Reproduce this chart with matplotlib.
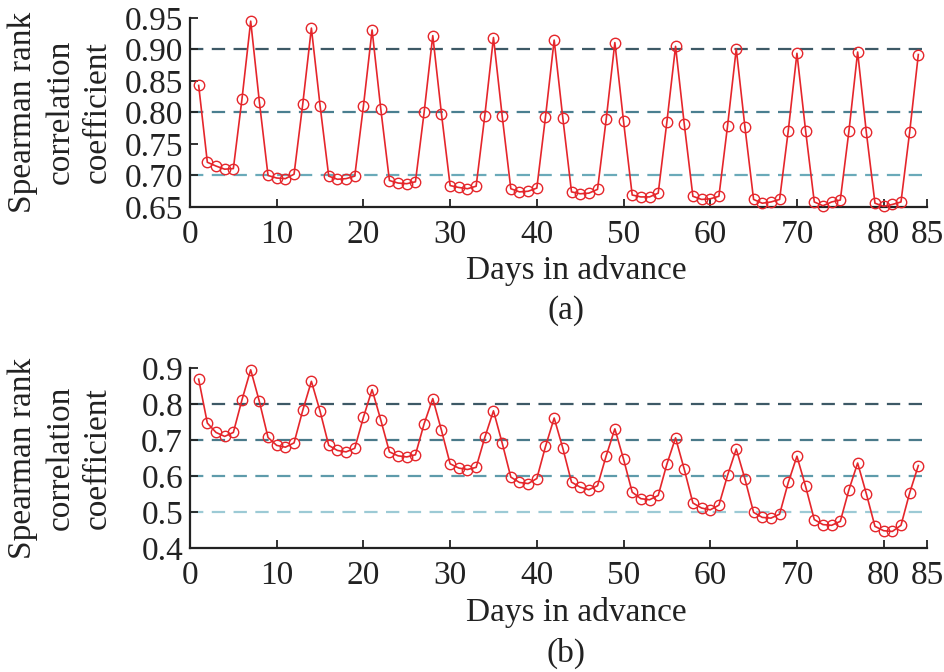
import matplotlib
matplotlib.use("Agg")
import matplotlib.pyplot as plt
import numpy as np

days = list(range(1, 85))

coef_a = [0.843, 0.721, 0.715, 0.710, 0.711, 0.822, 0.945, 0.817, 0.700, 0.696,
          0.695, 0.702, 0.813, 0.934, 0.811, 0.699, 0.694, 0.695, 0.699, 0.810,
          0.931, 0.806, 0.692, 0.688, 0.687, 0.690, 0.800, 0.922, 0.798, 0.684,
          0.681, 0.679, 0.683, 0.795, 0.919, 0.795, 0.679, 0.674, 0.675, 0.680,
          0.793, 0.915, 0.791, 0.674, 0.671, 0.672, 0.678, 0.789, 0.911, 0.786,
          0.669, 0.666, 0.666, 0.672, 0.785, 0.905, 0.782, 0.667, 0.662, 0.663,
          0.667, 0.779, 0.901, 0.777, 0.662, 0.656, 0.658, 0.662, 0.771, 0.894,
          0.771, 0.658, 0.652, 0.658, 0.661, 0.771, 0.896, 0.769, 0.656, 0.651,
          0.654, 0.658, 0.769, 0.892]

coef_b = [0.869, 0.747, 0.721, 0.710, 0.721, 0.812, 0.895, 0.807, 0.707, 0.685,
          0.680, 0.692, 0.782, 0.863, 0.780, 0.685, 0.671, 0.667, 0.677, 0.763,
          0.840, 0.756, 0.667, 0.656, 0.653, 0.659, 0.745, 0.815, 0.727, 0.634,
          0.622, 0.618, 0.624, 0.707, 0.781, 0.692, 0.597, 0.582, 0.579, 0.593,
          0.682, 0.761, 0.677, 0.583, 0.569, 0.562, 0.573, 0.656, 0.731, 0.647,
          0.555, 0.537, 0.534, 0.546, 0.633, 0.706, 0.619, 0.525, 0.511, 0.506,
          0.519, 0.602, 0.675, 0.592, 0.499, 0.485, 0.483, 0.494, 0.582, 0.655,
          0.571, 0.479, 0.465, 0.463, 0.474, 0.562, 0.636, 0.551, 0.460, 0.448,
          0.446, 0.463, 0.553, 0.629]

xticks = [0, 10, 20, 30, 40, 50, 60, 70, 80, 85]
yticks_a = [0.65, 0.70, 0.75, 0.80, 0.85, 0.90, 0.95]
yticks_b = [0.4, 0.5, 0.6, 0.7, 0.8, 0.9]
ref_a = [0.9, 0.8, 0.7]
ref_b = [0.8, 0.7, 0.6, 0.5]
ref_colors_a = ["#3d5966", "#4a7f90", "#6aaab9"]
ref_colors_b = ["#3d5966", "#4a7a8a", "#5e9bab", "#9ccad5"]

plt.rcParams['font.family'] = ['Liberation Serif', 'DejaVu Serif']
FS = 24
RED = "#e5262b"
INK = '#222222'

fig = plt.figure(figsize=(9.44, 6.72), dpi=100)
W, H = 944, 672

def make_ax(top_px, bottom_px):
    return fig.add_axes([190 / W, 1 - bottom_px / H, 737 / W, (bottom_px - top_px) / H])

ax_a = make_ax(18, 207)
ax_b = make_ax(368, 548)

def style(ax, vals, yticks, ylim, refs, rcols, fmt, label, lab_y, xl_y):
    for r, c in zip(refs, rcols):
        ax.axhline(r, color=c, lw=1.6, dashes=(6, 3.8), zorder=1)
    ax.plot(days, vals, color=RED, lw=1.2, marker='o', markersize=7.5,
            markerfacecolor='none', markeredgecolor=RED, markeredgewidth=1.0,
            zorder=3, clip_on=False)
    ax.set_xlim(0, 85)
    ax.set_ylim(*ylim)
    ax.set_xticks(xticks)
    ax.set_yticks(yticks)
    ax.set_yticklabels([fmt.format(v) for v in yticks])
    for s in ['top', 'right']:
        ax.spines[s].set_visible(False)
    for s in ['left', 'bottom']:
        ax.spines[s].set_linewidth(1.6)
        ax.spines[s].set_color(INK)
    ax.tick_params(direction='in', length=6, width=1.3, labelsize=FS, colors=INK)
    ax.tick_params(axis='x', pad=9)
    ax.tick_params(axis='y', pad=5)
    ax.set_xlabel("Days in advance", fontsize=FS, color=INK)
    ax.xaxis.set_label_coords(0.524, xl_y)
    fig.text(60 / W, 1 - lab_y / H, "Spearman rank\ncorrelation\ncoefficient",
             rotation=90, ha='center', va='center', fontsize=FS, color=INK,
             multialignment='center', linespacing=1.3)
    ax.text(0.51, label[1], label[0], transform=ax.transAxes, ha='center', va='center',
            fontsize=FS, color=INK)

style(ax_a, coef_a, yticks_a, (0.65, 0.95), ref_a, ref_colors_a, "{:.2f}", ("(a)", -0.55), 112, -0.255)
style(ax_b, coef_b, yticks_b, (0.4, 0.9), ref_b, ref_colors_b, "{:.1f}", ("(b)", -0.585), 458, -0.27)

fig.savefig("out.png", dpi=100)
